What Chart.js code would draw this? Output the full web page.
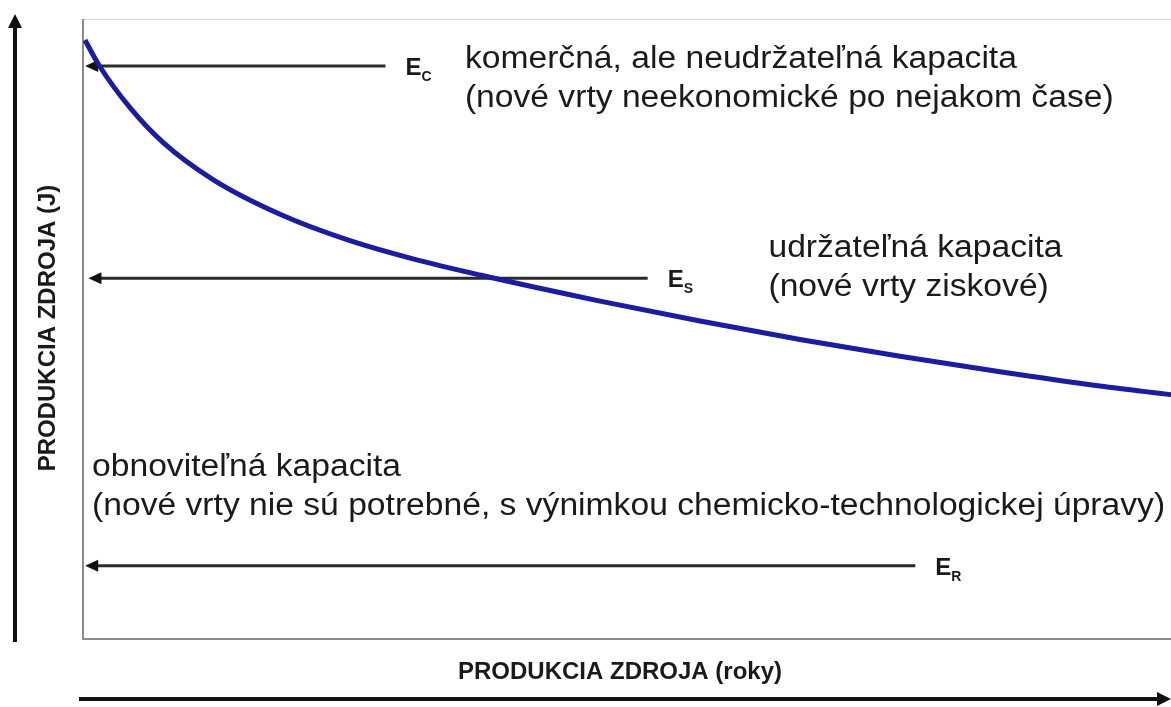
<!DOCTYPE html>
<html>
<head>
<meta charset="utf-8">
<script src="https://cdn.jsdelivr.net/npm/chart.js@4/dist/chart.umd.min.js"></script>
<style>
    html, body { margin: 0; padding: 0; background: #fff; }
    #wrap { width: 1171px; height: 707px; }
</style>
</head>
<body>
<div id="wrap"><canvas id="chart" width="1171" height="707"></canvas></div>
<script>
// production decline curve (x = time, y = production, both in 0..100 units)
const years = [0.18, 1.56, 4.32, 7.35, 11.95, 18.11, 24.26, 30.33, 36.49, 47.52, 56.71, 65.90, 75.09, 84.28, 93.47, 100];
const production = [96.6, 92.3, 85.7, 80.1, 74.1, 68.5, 64.4, 61.3, 58.7, 54.5, 51.3, 48.3, 45.6, 43.1, 40.8, 39.4];

// capacity levels E_C, E_S, E_R
const levelNames = ['C', 'S', 'R'];
const levelValues = [92.4, 58.2, 11.8];
const levelArrowFrom = [27.8, 51.9, 76.5];
const levelArrowTo = [0.2, 0.5, 0.2];

const xTitle = 'PRODUKCIA ZDROJA (roky)';
const yTitle = 'PRODUKCIA ZDROJA (J)';

const notes = [
    { x: 35.1, y: 92.1, lines: ['komerčná, ale neudržateľná kapacita', '(nové vrty neekonomické po nejakom čase)'] },
    { x: 63.0, y: 61.6, lines: ['udržateľná kapacita', '(nové vrty ziskové)'] },
    { x: 0.83, y: 26.3, lines: ['obnoviteľná kapacita', '(nové vrty nie sú potrebné, s výnimkou chemicko-technologickej úpravy)'] }
];

const FONT = '"Liberation Sans", Arial, sans-serif';

function arrowHead(ctx, x, y, dir, len, half) {
    // dir: 'left' | 'right' | 'up'
    ctx.beginPath();
    if (dir == 'left') {
        ctx.moveTo(x, y); ctx.lineTo(x + len, y - half); ctx.lineTo(x + len, y + half);
    } else if (dir == 'right') {
        ctx.moveTo(x, y); ctx.lineTo(x - len, y - half); ctx.lineTo(x - len, y + half);
    } else {
        ctx.moveTo(x, y); ctx.lineTo(x - half, y + len); ctx.lineTo(x + half, y + len);
    }
    ctx.closePath();
    ctx.fill();
}

const diagramPlugin = {
    id: 'diagram',
    beforeDatasetsDraw(chart) {
        const ctx = chart.ctx;
        const area = chart.chartArea;
        const xs = chart.scales.x, ys = chart.scales.y;
        ctx.save();

        // frame
        ctx.strokeStyle = '#d4d4d4';
        ctx.lineWidth = 1;
        ctx.beginPath();
        ctx.moveTo(area.left, area.top + 0.5);
        ctx.lineTo(area.right, area.top + 0.5);
        ctx.stroke();
        ctx.strokeStyle = '#8a8a8a';
        ctx.lineWidth = 2;
        ctx.beginPath();
        ctx.moveTo(area.left, area.top);
        ctx.lineTo(area.left, area.bottom);
        ctx.lineTo(area.right, area.bottom);
        ctx.stroke();

        // outer axis arrows
        ctx.strokeStyle = '#111';
        ctx.fillStyle = '#111';
        ctx.lineWidth = 4;
        ctx.beginPath();
        ctx.moveTo(15, area.bottom + 3);
        ctx.lineTo(15, 26);
        ctx.stroke();
        arrowHead(ctx, 15, 14, 'up', 14, 7);
        ctx.beginPath();
        ctx.moveTo(area.left - 4, 699);
        ctx.lineTo(1158, 699);
        ctx.stroke();
        arrowHead(ctx, 1171, 699, 'right', 14, 7);

        // axis titles
        ctx.fillStyle = '#1a1a1a';
        ctx.font = 'bold 24px ' + FONT;
        ctx.textAlign = 'center';
        ctx.textBaseline = 'middle';
        ctx.fillText(xTitle, 620, 672);
        ctx.save();
        ctx.translate(48, 328);
        ctx.rotate(-Math.PI / 2);
        ctx.fillText(yTitle, 0, 0);
        ctx.restore();

        // level arrows
        levelValues.forEach((v, i) => {
            const y = ys.getPixelForValue(v);
            const x0 = xs.getPixelForValue(levelArrowFrom[i]);
            const x1 = xs.getPixelForValue(levelArrowTo[i]);
            ctx.strokeStyle = '#2a2a2a';
            ctx.fillStyle = '#111';
            ctx.lineWidth = 3;
            ctx.beginPath();
            ctx.moveTo(x0, y);
            ctx.lineTo(x1 + 10, y);
            ctx.stroke();
            arrowHead(ctx, x1, y, 'left', 13, 6);

            ctx.fillStyle = '#1a1a1a';
            ctx.textAlign = 'left';
            ctx.textBaseline = 'alphabetic';
            ctx.font = 'bold 24px ' + FONT;
            const ex = x0 + 20;
            ctx.fillText('E', ex, y + 9);
            const ew = ctx.measureText('E').width;
            ctx.font = 'bold 14px ' + FONT;
            ctx.fillText(levelNames[i], ex + ew, y + 15);
        });

        // notes (source text is slightly wider than Arial)
        ctx.fillStyle = '#1a1a1a';
        ctx.font = '31px ' + FONT;
        ctx.textAlign = 'left';
        ctx.textBaseline = 'alphabetic';
        notes.forEach(n => {
            const x = xs.getPixelForValue(n.x);
            const y = ys.getPixelForValue(n.y);
            n.lines.forEach((line, k) => {
                ctx.save();
                ctx.translate(x, y + k * 39);
                ctx.scale(1.085, 1);
                ctx.fillText(line, 0, 0);
                ctx.restore();
            });
        });

        ctx.restore();
    }
};

new Chart(document.getElementById('chart'), {
    type: 'line',
    data: {
        datasets: [{
            label: 'Produkcia',
            data: years.map((x, i) => ({ x: x, y: production[i] })),
            borderColor: '#1c1c9e',
            borderWidth: 5,
            pointRadius: 0,
            fill: false,
            cubicInterpolationMode: 'monotone'
        }]
    },
    options: {
        responsive: false,
        animation: false,
        layout: { padding: { left: 83, top: 19, right: 0, bottom: 68 } },
        plugins: {
            legend: { display: false },
            tooltip: { enabled: false }
        },
        scales: {
            x: { type: 'linear', min: 0, max: 100, display: false },
            y: { type: 'linear', min: 0, max: 100, display: false }
        }
    },
    plugins: [diagramPlugin]
});
</script>
</body>
</html>
